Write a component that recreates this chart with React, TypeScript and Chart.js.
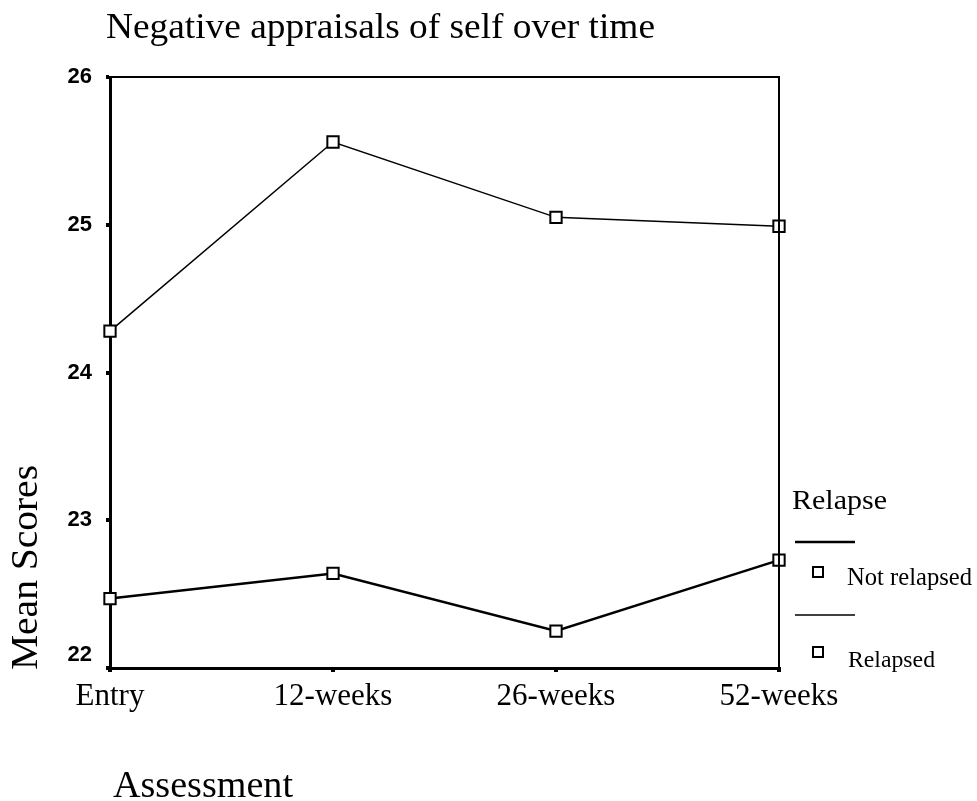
import React, { useEffect, useRef } from "react";
import { Chart, registerables } from "chart.js";

Chart.register(...registerables);

const categories = ["Entry", "12-weeks", "26-weeks", "52-weeks"];
const relapsed = [24.28, 25.56, 25.05, 24.99];
const notRelapsed = [22.47, 22.64, 22.25, 22.73];
const yTicks = [22, 23, 24, 25, 26];
const titleText = "Negative appraisals of self over time";
const yTitle = "Mean Scores";
const xTitle = "Assessment";
const legendTitle = "Relapse";
const seriesNames = ["Not relapsed", "Relapsed"];

const serif = "'Liberation Serif', 'Times New Roman', serif";

function stretchText(ctx: any, text: string, x: number, y: number, size: number, width: number) {
  ctx.save();
  ctx.font = `${size}px ${serif}`;
  const w = ctx.measureText(text).width;
  ctx.translate(x, y);
  ctx.scale(width / w, 1);
  ctx.textAlign = "left";
  ctx.textBaseline = "alphabetic";
  ctx.fillText(text, 0, 0);
  ctx.restore();
}

const textPlugin = {
  id: "texts",
  afterDraw(chart: any) {
    const ctx = chart.ctx;
    const a = chart.chartArea;
    ctx.save();
    // frame top/right
    ctx.strokeStyle = "#000";
    ctx.lineWidth = 2;
    ctx.beginPath();
    ctx.moveTo(a.left, a.top);
    ctx.lineTo(a.right, a.top);
    ctx.lineTo(a.right, a.bottom);
    ctx.stroke();
    ctx.fillStyle = "#000";
    // title
    stretchText(ctx, titleText, 106, 38, 36, 549);
    // x title
    stretchText(ctx, xTitle, 113, 797, 37, 180);
    // y title
    ctx.save();
    ctx.translate(37, 670);
    ctx.rotate(-Math.PI / 2);
    stretchText(ctx, yTitle, 0, 0, 37, 205);
    ctx.restore();
    // legend
    stretchText(ctx, legendTitle, 792, 509, 27, 95);
    const ds = chart.data.datasets;
    const rows = [
      { lineY: 542, boxY: 572, x: 847, textY: 585, size: 25, w: 125, ds: ds[0] },
      { lineY: 615, boxY: 652, x: 848, textY: 667, size: 24, w: 87, ds: ds[1] },
    ];
    rows.forEach((r, i) => {
      ctx.strokeStyle = "#000";
      ctx.lineWidth = r.ds.borderWidth;
      ctx.beginPath();
      ctx.moveTo(795, r.lineY);
      ctx.lineTo(855, r.lineY);
      ctx.stroke();
      ctx.lineWidth = 2;
      ctx.fillStyle = "#fff";
      ctx.fillRect(813, r.boxY - 5, 10, 10);
      ctx.strokeRect(813, r.boxY - 5, 10, 10);
      ctx.fillStyle = "#000";
      stretchText(ctx, seriesNames[i], r.x, r.textY, r.size, r.w);
    });
    ctx.restore();
  },
};

export default function App() {
  const ref = useRef<HTMLCanvasElement>(null);
  useEffect(() => {
    if (!ref.current) return;
    const chart = new Chart(ref.current, {
      type: "line",
      data: {
        labels: categories,
        datasets: [
          {
            label: seriesNames[0],
            data: notRelapsed,
            borderColor: "#000",
            borderWidth: 2.5,
            pointStyle: "rect",
            pointRadius: 8,
            pointBorderWidth: 2,
            pointBackgroundColor: "#fff",
            pointBorderColor: "#000",
            tension: 0,
            clip: false as any,
          },
          {
            label: seriesNames[1],
            data: relapsed,
            borderColor: "#000",
            borderWidth: 1.5,
            pointStyle: "rect",
            pointRadius: 8,
            pointBorderWidth: 2,
            pointBackgroundColor: "#fff",
            pointBorderColor: "#000",
            tension: 0,
            clip: false as any,
          },
        ],
      },
      options: {
        animation: false,
        responsive: true,
        maintainAspectRatio: false,
        layout: { padding: { left: 0, right: 198, top: 77, bottom: 0 } },
        plugins: { legend: { display: false }, title: { display: false }, tooltip: { enabled: false } },
        scales: {
          x: {
            type: "category",
            offset: false,
            afterFit: (s: any) => { s.height = 133; },
            grid: { drawOnChartArea: false, drawTicks: true, tickLength: 4, lineWidth: 4, color: "#000" },
            border: { display: true, color: "#000", width: 3 },
            ticks: { color: "#000", font: { family: serif, size: 31 }, padding: 6, maxRotation: 0, autoSkip: false },
          },
          y: {
            min: 22,
            max: 26,
            afterFit: (s: any) => { s.width = 110; },
            afterBuildTicks: (s: any) => { s.ticks = yTicks.map((v) => ({ value: v })); },
            grid: { drawOnChartArea: false, drawTicks: true, tickLength: 4, lineWidth: 4, color: "#000" },
            border: { display: true, color: "#000", width: 3 },
            ticks: {
              color: "#000",
              font: { family: "'Liberation Sans', Arial, sans-serif", size: 22, weight: "bold" },
              padding: 14,
              callback: (v: any) => (v === yTicks[0] ? [String(v), ""] : String(v)),
            },
          },
        },
      },
      plugins: [textPlugin],
    });
    return () => chart.destroy();
  }, []);
  return (
    <div style={{ position: "absolute", left: 0, top: 0, width: 977, height: 801, background: "#fff" }}>
      <canvas ref={ref} />
    </div>
  );
}
